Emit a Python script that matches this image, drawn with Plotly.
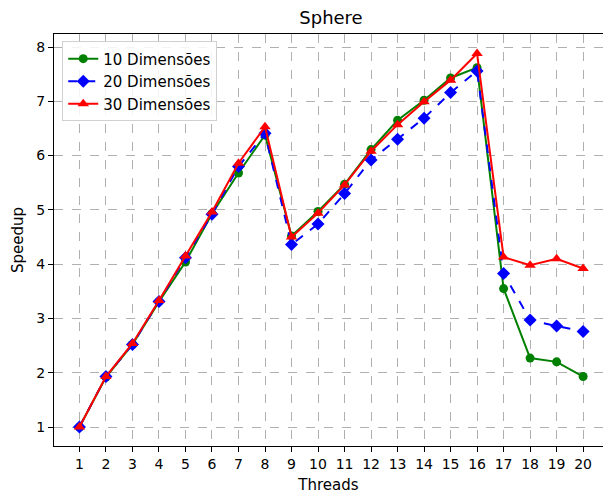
import plotly.graph_objects as go

threads = list(range(1, 21))
dim10 = [1.0, 1.92, 2.52, 3.31, 4.04, 4.93, 5.68, 6.38, 4.52, 4.97, 5.47, 6.11, 6.65, 7.02, 7.43, 7.62, 3.55, 2.27, 2.20, 1.93]
dim20 = [1.0, 1.93, 2.52, 3.31, 4.12, 4.92, 5.80, 6.41, 4.36, 4.74, 5.30, 5.92, 6.30, 6.69, 7.16, 7.56, 3.83, 2.97, 2.86, 2.76]
dim30 = [1.0, 1.93, 2.54, 3.33, 4.15, 4.96, 5.86, 6.53, 4.50, 4.94, 5.46, 6.08, 6.57, 6.99, 7.39, 7.88, 4.13, 3.98, 4.10, 3.92]

series = [
    ("10 Dimensões", dim10, "green", "circle", "solid"),
    ("20 Dimensões", dim20, "blue", "diamond", "dash"),
    ("30 Dimensões", dim30, "red", "triangle-up", "solid"),
]

fig = go.Figure()
for name, vals, color, sym, dash in series:
    fig.add_trace(go.Scatter(
        x=threads, y=vals, name=name, mode="lines+markers",
        line=dict(color=color, width=2, dash=dash),
        marker=dict(color=color, symbol=sym, size=10 if sym != "circle" else 9),
    ))

font = "DejaVu Sans, sans-serif"
fig.update_layout(
    width=603, height=496,
    margin=dict(l=54, r=0, t=34, b=50),
    paper_bgcolor="white", plot_bgcolor="white",
    font=dict(family=font, size=14, color="black"),
    title=dict(text="Sphere", x=331/603, xref="container", xanchor="center",
               y=1-18/496, yref="container", yanchor="middle",
               font=dict(size=18, family=font, color="black")),
    showlegend=True,
    legend=dict(x=0.015, y=0.982, xanchor="left", yanchor="top",
                bgcolor="rgba(255,255,255,0.85)", bordercolor="#d0d0d0", borderwidth=1,
                font=dict(size=15, family=font), tracegroupgap=0, itemwidth=30),
)
fig.update_xaxes(
    range=[0.04, 20.75], tickmode="array", tickvals=threads,
    showline=True, linecolor="black", linewidth=1.2, mirror=True,
    ticks="outside", ticklen=5, tickcolor="black",
    showgrid=True, gridcolor="#b0b0b0", griddash="dash", gridwidth=1,
    zeroline=False, tickfont=dict(size=14),
    title=dict(text="Threads", font=dict(size=15), standoff=8),
)
fig.update_yaxes(
    range=[0.65, 8.24], tickmode="array", tickvals=[1, 2, 3, 4, 5, 6, 7, 8],
    showline=True, linecolor="black", linewidth=1.2, mirror=False,
    ticks="outside", ticklen=5, tickcolor="black",
    showgrid=True, gridcolor="#b0b0b0", griddash="dash", gridwidth=1,
    zeroline=False, tickfont=dict(size=14),
    title=dict(text="Speedup", font=dict(size=15), standoff=8),
)
fig.write_html("out.html")
